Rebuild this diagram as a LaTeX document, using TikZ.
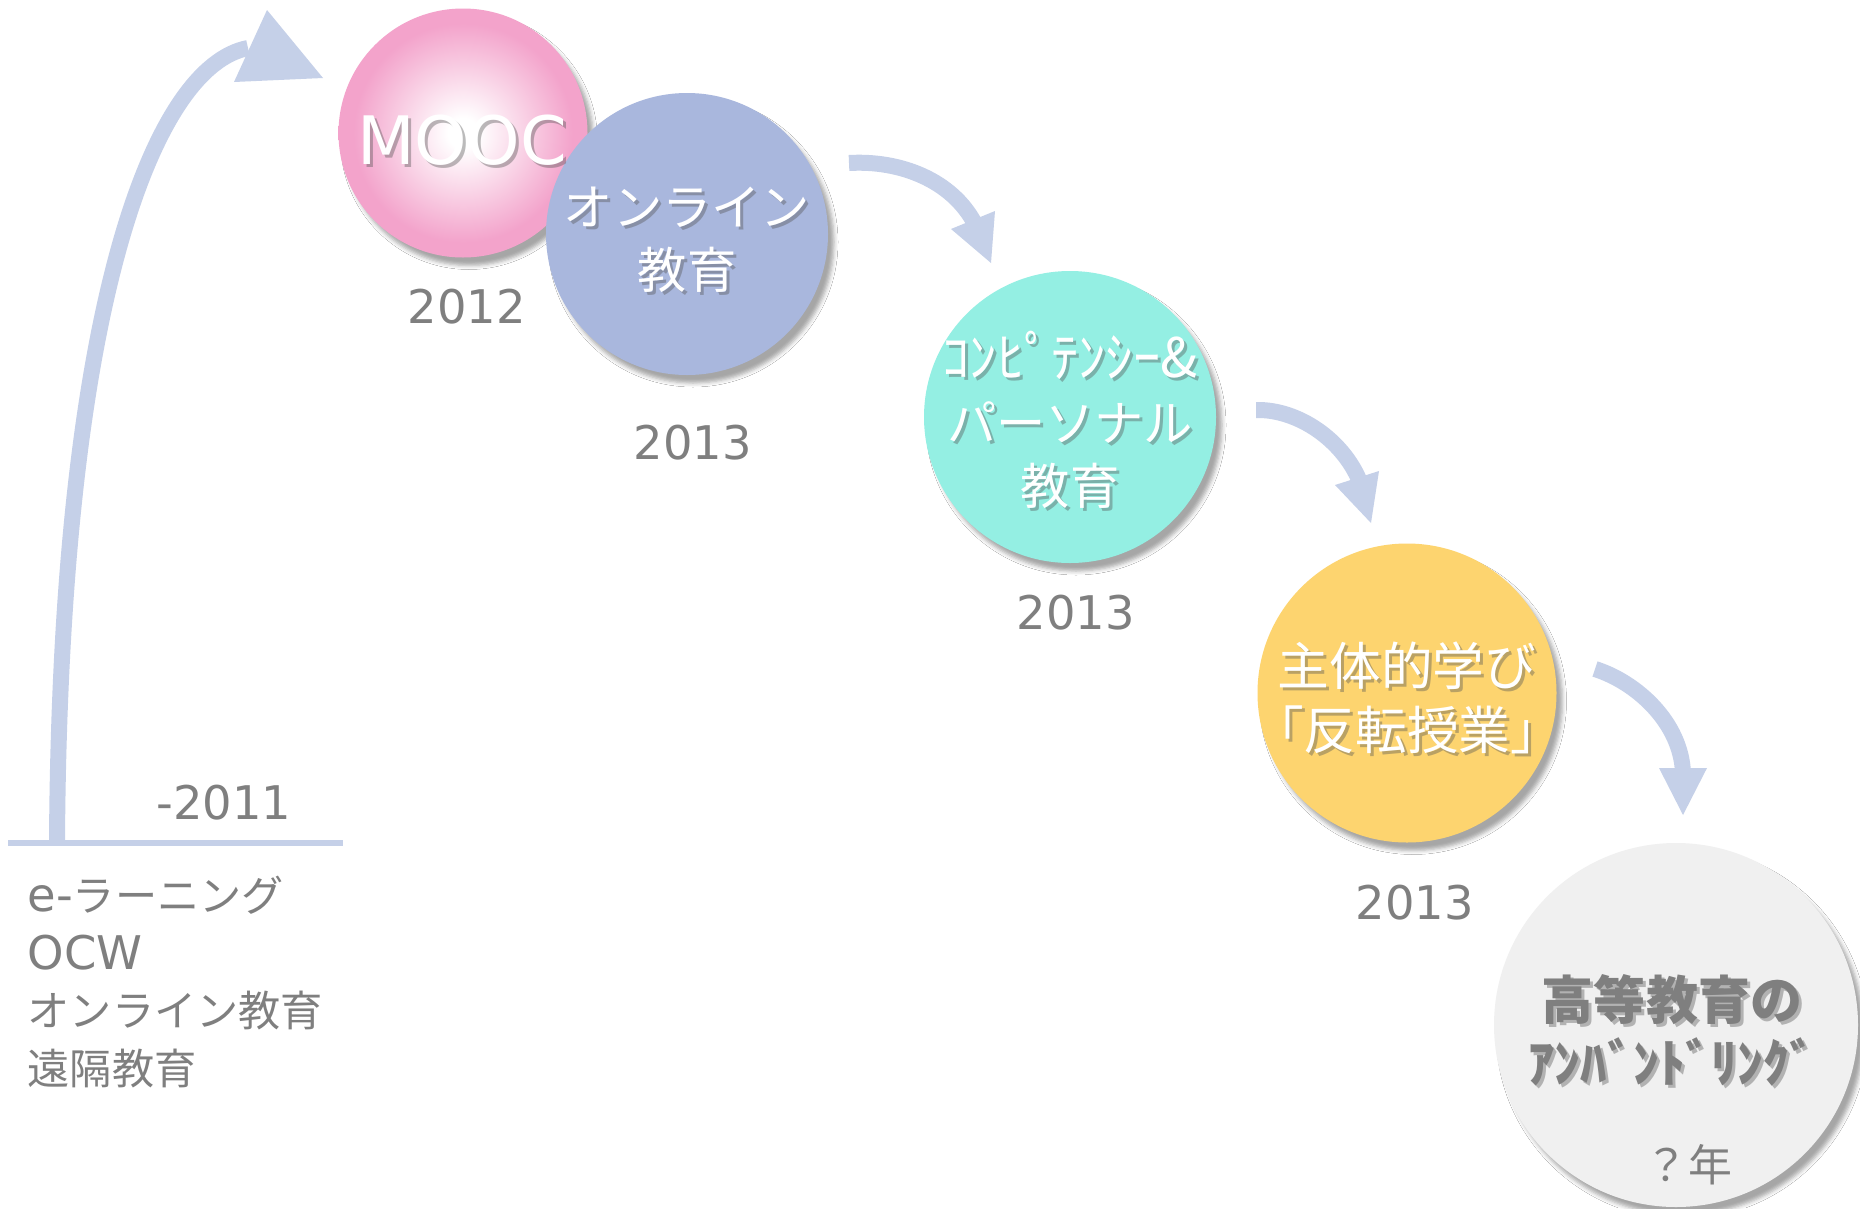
\documentclass[tikz,border=0pt]{standalone}
\usepackage{fontspec}
\setmainfont{DejaVu Sans}
\newfontfamily\jpfont{Noto Sans CJK JP}
\usetikzlibrary{shadows.blur}

\definecolor{arrowblue}{HTML}{C5D0E8}
\definecolor{moocpink}{HTML}{F3A3CB}
\definecolor{onlineblue}{HTML}{A9B7DD}
\definecolor{mint}{HTML}{94EFE3}
\definecolor{sunny}{HTML}{FDD46F}
\definecolor{mist}{HTML}{F0F0F0}
\definecolor{yeargray}{HTML}{7F7F7F}
\definecolor{shadowgray}{HTML}{555555}

\pgfdeclareradialshading{moocglow}{\pgfpoint{0bp}{0bp}}{color(0bp)=(white); color(3bp)=(white); color(22bp)=(moocpink); color(50bp)=(moocpink)}

\newcommand{\jpsmall}{\jpfont\fontsize{12}{16.4}\selectfont}
% white (or gray) text with a small cast shadow
\newcommand{\shadowlabel}[4][white]{%
  \node[circtext, #3, text=shadowgray, opacity=0.4] (#2-sh) at ([shift={(3,3)}]#2) {#4};
  \node[circtext, #3, text=#1] (#2-txt) at (#2) {#4};}

\begin{document}
\begin{tikzpicture}[x=0.1mm, y=-0.1mm,
    bubble/.style={circle, inner sep=0pt, minimum size=#1,
      blur shadow={shadow xshift=0.6mm, shadow yshift=-0.8mm, shadow blur radius=0.4mm, shadow opacity=35}},
    circtext/.style={align=center, inner sep=0pt},
    jp/.style={font=\jpfont\fontsize{14}{18}\selectfont},
    year/.style={text=yeargray, font=\fontsize{13.2}{16}\selectfont},
    flow/.style={draw=arrowblue, line width=1.6mm}]
    \path[fill=white, use as bounding box] (0,0) rectangle (1860,1208);

    % bubbles
    \node[bubble=24.9mm, shade, shading=moocglow] (mooc) at (463,133) {};
    \node[bubble=28.2mm, fill=onlineblue] (online) at (687,234) {};
    \node[bubble=29.2mm, fill=mint] (comp) at (1070,417) {};
    \node[bubble=29.9mm, fill=sunny] (active) at (1407,693) {};
    \node[bubble=36.4mm, fill=mist] (unbundle) at (1676,1025) {};

    \coordinate (moocT) at (462,140);
    \coordinate (onlineT) at (687,240);
    \coordinate (compT) at (1070,420);
    \coordinate (activeT) at (1407,698);
    \coordinate (unbundleT) at (1672,1030);
    \shadowlabel{moocT}{font=\fontsize{19}{22}\selectfont}{MOOC}
    \shadowlabel{onlineT}{jp}{オンライン\\教育}
    \shadowlabel{compT}{jp}{{\fontsize{15.5}{18}\selectfont ｺﾝﾋﾟﾃﾝｼｰ\&}\\パーソナル\\教育}
    \shadowlabel{activeT}{font=\jpfont\fontsize{14.7}{18}\selectfont}{主体的学び\\「反転授業」}
    \shadowlabel[yeargray]{unbundleT}{font=\jpfont\bfseries\fontsize{14.8}{18}\selectfont}{高等教育の\\ｱﾝﾊﾞﾝﾄﾞﾘﾝｸﾞ}
    \node[text=yeargray, font=\jpfont\fontsize{12.5}{14}\selectfont] (qyear) at (1688,1165) {？年};

    % years
    \node[year] (y2011) at (224,803) {-2011};
    \node[year] (y2012) at (467,307) {2012};
    \node[year] (y2013a) at (693,443) {2013};
    \node[year] (y2013b) at (1076,613) {2013};
    \node[year] (y2013c) at (1415,903) {2013};

    \node[anchor=west, align=left, inner sep=0pt, text=yeargray, font=\fontsize{13.2}{16.4}\selectfont] (legacy) at (27,982)
      {e-{\jpsmall ラーニング}\\OCW\\{\jpsmall オンライン教育}\\{\jpsmall 遠隔教育}};

    % base line and the big rise
    \coordinate (base0) at (8,843);
    \coordinate (base1) at (343,843);
    \draw[arrowblue, line width=0.6mm] (base0) -- (base1);
    \coordinate (rise0) at (57,843);
    \coordinate (rise1) at (248,48);
    \draw[flow] (rise0) .. controls (60,300) and (155,66) .. (rise1);
    \fill[arrowblue] (267,10) -- (323,78) -- (234,82) -- cycle;

    % step arrows
    \coordinate (a2s) at (849,163);
    \coordinate (a2e) at (975,224);
    \draw[flow] (a2s) .. controls (900,160) and (952,180) .. (a2e);
    \fill[arrowblue] (951,229) -- (995,211) -- (991,263) -- cycle;

    \coordinate (a3s) at (1256,410);
    \coordinate (a3e) at (1360,482);
    \draw[flow] (a3s) .. controls (1298,409) and (1343,440) .. (a3e);
    \fill[arrowblue] (1335,485) -- (1379,471) -- (1371,523) -- cycle;

    \coordinate (a4s) at (1595,669);
    \coordinate (a4e) at (1683,773);
    \draw[flow] (a4s) .. controls (1636,682) and (1681,722) .. (a4e);
    \fill[arrowblue] (1659,768) -- (1707,768) -- (1683,815) -- cycle;
\end{tikzpicture}
\end{document}
